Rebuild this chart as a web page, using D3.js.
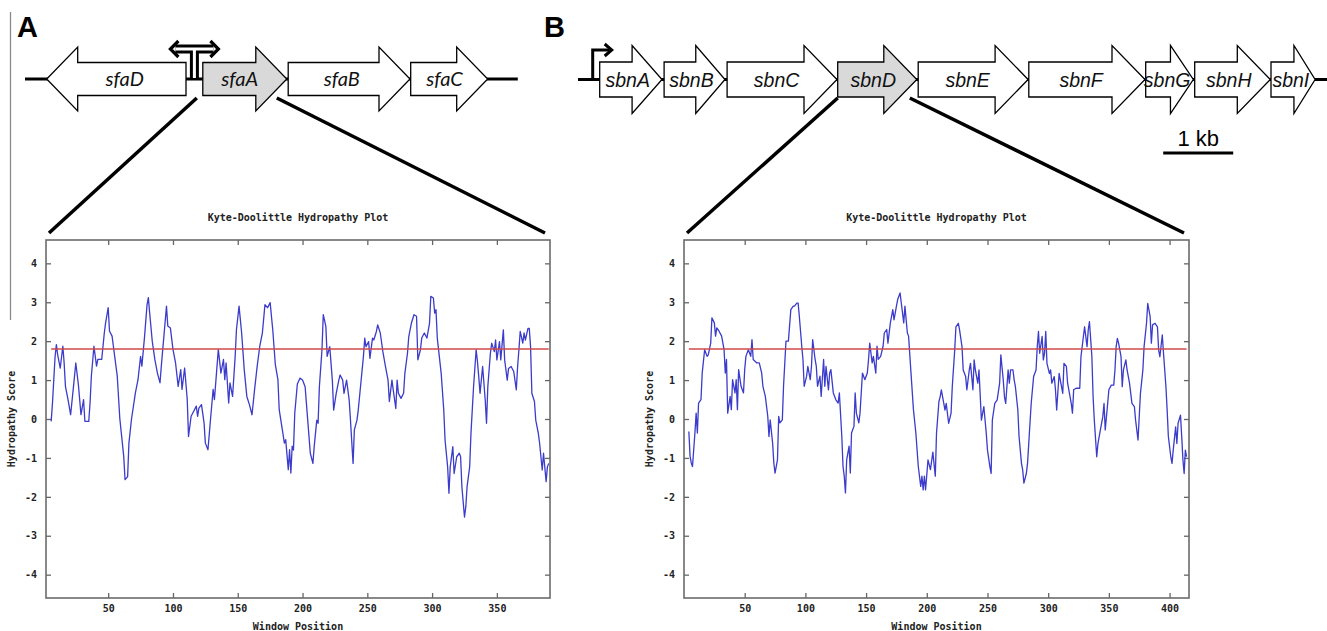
<!DOCTYPE html>
<html>
<head>
<meta charset="utf-8">
<script src="https://cdn.jsdelivr.net/npm/d3@7"></script>
<style>
  body { margin: 0; background: #fff; }
  svg { display: block; }
  .gp text { font-family: "DejaVu Sans Mono", monospace; font-weight: bold; font-size: 10px; fill: #222; }
</style>
</head>
<body>
<svg id="fig" width="1327" height="631"></svg>
<script>
// ---- gene maps (kb from start of drawn backbone) ----
const genesA  = ["sfaD", "sfaA", "sfaB", "sfaC"];
const startA  = [0.31, 2.54, 3.76, 5.51];
const endA    = [2.30, 3.74, 5.50, 6.61];
const strandA = [-1, 1, 1, 1];
const backboneA = [0, 7.04];

const genesB  = ["sbnA", "sbnB", "sbnC", "sbnD", "sbnE", "sbnF", "sbnG", "sbnH", "sbnI"];
const startB  = [0.31, 1.23, 2.13, 3.71, 4.86, 6.44, 8.11, 8.81, 9.90];
const endB    = [1.20, 2.10, 3.70, 4.84, 6.43, 8.10, 8.79, 9.89, 10.53];
const strandB = [1, 1, 1, 1, 1, 1, 1, 1, 1];
const backboneB = [0, 10.7];
const scaleBarKb = [8.36, 9.36];

// ---- Kyte-Doolittle profiles (window position, score) ----
const posA = [6,7,9,10,11,13,15,16,17,19,
  21,23,25,27,29,31,32,35,36,37,
  39,41,42,45,47,48,50,51,53,54,
  57,59,62,63,65,66,68,71,73,75,
  76,78,80,81,82,84,86,88,90,91,
  93,95,96,98,100,102,104,106,107,109,
  111,112,114,116,118,119,120,122,124,125,
  127,129,131,132,134,135,137,139,140,141,
  143,144,146,148,149,151,153,155,157,159,
  161,163,165,167,169,171,173,175,177,179,
  181,182,184,186,187,189,190,191,192,193,
  194,196,198,200,202,204,206,208,209,211,
  212,213,215,216,218,219,221,223,224,226,
  228,229,231,232,234,236,237,239,240,242,
  243,245,247,248,249,251,252,254,255,257,
  258,260,262,264,266,267,269,270,272,273,
  274,276,278,279,281,282,284,286,288,289,
  291,292,294,296,298,299,301,302,303,304,
  307,309,310,312,313,314,316,317,319,321,
  322,323,325,326,327,329,330,332,334,335,
  336,337,339,341,342,343,345,346,348,349,
  350,352,353,355,356,358,359,361,363,365,
  366,367,368,370,371,372,374,375,376,377,
  379,380,382,383,385,386,388,389,390];
const scoreA = [-0.06,0.41,1.6,1.91,1.65,1.31,1.87,1.44,0.84,0.5,
  0.11,0.76,1.44,0.88,0.11,0.5,-0.06,-0.06,0.41,1.1,
  1.87,1.36,1.53,1.53,2.21,2.47,2.86,2.26,2.13,1.87,
  1.1,0,-0.96,-1.56,-1.48,-0.62,0,0.67,1.01,1.61,
  1.36,2.09,2.94,3.12,2.73,2.0,1.53,1.18,0.93,1.36,
  2.13,2.9,2.39,2.34,1.79,1.44,0.84,1.27,0.76,1.31,
  0.5,-0.45,0.07,0.2,0.33,0.07,0.28,0.37,-0.1,-0.62,
  -0.79,0,0.76,0.5,1.36,1.79,1.18,1.53,1.01,1.44,
  0.41,0.93,0.58,1.61,2.3,2.9,2.21,1.27,0.58,0.37,
  0.11,0.76,1.36,1.87,2.21,2.94,2.86,2.99,2.3,1.4,
  1.01,0.24,-0.19,-0.62,-0.53,-1.3,-0.79,-1.39,-0.7,-0.8,
  0.15,0.9,1.05,1.0,0.83,-0.03,-0.88,-1.14,-0.71,-0.03,
  -0.11,0.83,1.78,2.68,2.38,1.61,1.86,1.0,0.23,0.66,
  1.0,1.13,1.0,0.66,1.0,0.49,-0.03,-1.14,-0.28,-0.03,
  0.23,0.92,1.61,2.08,1.86,1.99,1.56,2.08,2.03,2.25,
  2.42,2.21,1.73,1.35,1.0,0.45,1.0,0.75,0.27,1.0,
  0.66,0.53,0.66,1.18,1.69,2.12,2.46,2.68,2.64,1.52,
  1.78,2.08,2.21,2.08,2.46,3.15,3.11,2.72,2.81,2.08,
  1.18,0.23,-0.54,-1.23,-1.91,-1.23,-0.71,-1.4,-0.97,-0.88,
  -0.97,-1.74,-2.52,-2.26,-1.74,-1.23,-0.37,0.83,1.78,1.48,
  1.09,0.66,1.35,0.49,-0.11,0.83,1.69,1.95,1.73,2.03,
  1.52,1.99,1.52,2.29,1.52,1.0,1.3,1.35,1.22,0.75,
  1.35,1.78,2.25,1.95,2.21,2.03,2.33,2.33,1.86,0.66,
  0.45,-0.03,-0.37,-0.63,-1.31,-0.88,-1.61,-1.23,-1.14];

const posB = [4,5,6,7,9,10,11,12,14,15,
  17,19,20,22,23,25,26,27,29,31,
  33,34,35,36,38,39,40,42,43,44,
  45,47,49,50,51,53,55,56,57,60,
  62,64,65,67,69,70,71,73,74,75,
  77,78,79,81,82,84,86,88,90,91,
  93,94,95,97,98,99,101,102,104,105,
  106,108,109,110,112,113,115,116,117,119,
  120,121,123,125,127,128,130,131,132,133,
  134,136,137,138,140,141,142,144,145,147,
  149,151,152,153,155,156,158,159,160,162,
  164,165,167,168,170,172,173,175,176,178,
  179,181,182,184,185,187,189,191,193,195,
  196,197,198,199,201,203,205,207,208,210,
  211,212,214,215,216,218,220,221,223,224,
  226,227,229,230,232,233,235,236,238,239,
  240,242,243,245,247,249,250,252,253,254,
  256,258,260,261,263,264,265,267,268,269,
  271,272,273,275,276,278,279,280,282,283,
  284,286,288,290,291,292,293,295,296,297,
  298,299,301,302,303,305,306,307,309,310,
  312,313,315,316,317,319,320,321,323,326,
  327,329,330,332,333,334,336,337,338,340,
  341,343,345,346,347,349,350,352,354,355,
  356,357,358,360,361,362,364,365,367,369,
  371,372,374,375,376,378,379,381,382,384,
  385,386,388,390,391,392,394,395,397,398,
  399,401,402,403,405,406,407,409,410,411,
  412,413,414];
const scoreB = [-0.32,-0.96,-1.13,-1.22,-0.36,0.15,-0.36,0.41,0.5,1.18,
  1.78,1.61,1.65,1.95,2.6,2.47,2.13,2.34,2.25,2.13,
  1.78,1.18,1.53,0.15,0.58,0.24,1.01,0.67,1.01,0.24,
  1.27,0.84,0.67,1.27,1.61,1.78,1.61,2.04,1.53,1.44,
  1.44,1.18,0.84,0.58,0.07,-0.45,-0.02,-0.62,-1.13,-1.39,
  -1.05,0.07,-0.1,-0.02,0.84,2.0,2.0,2.81,2.9,2.9,
  2.98,2.98,2.64,1.87,1.53,0.84,1.1,1.35,1.01,1.35,
  2.04,1.53,1.35,0.84,1.1,0.58,1.53,0.84,1.35,0.75,
  1.18,1.27,0.67,0.5,0.41,0.67,-0.45,-1.22,-1.47,-1.9,
  -1.05,-0.7,-1.39,-0.36,-0.19,0.67,0.15,-0.1,0.15,1.18,
  1.01,1.18,1.53,1.95,1.44,1.61,1.18,1.87,1.53,1.61,
  1.87,2.21,2.3,1.95,2.47,2.81,2.55,2.9,3.07,3.24,
  2.98,2.47,2.9,2.21,2.13,1.18,0.24,-0.36,-1.22,-1.73,
  -1.47,-1.82,-1.47,-1.82,-1.05,-1.3,-0.85,-1.47,-0.37,0.45,
  0.57,0.75,0.4,0.23,0.4,-0.11,0.15,0.83,1.77,2.37,
  2.46,2.29,1.86,1.26,1.09,0.75,1.26,1.43,0.75,1.52,
  1.26,0.92,1.26,-0.03,0.32,-0.37,-0.8,-1.23,-1.4,-0.03,
  0.4,0.49,0.92,1.65,1.0,0.57,0.4,1.26,0.92,1.26,
  1.26,1.0,0.83,0.23,-0.45,-1.14,-1.31,-1.65,-1.4,-1.14,
  -0.63,0.4,1.09,1.26,1.86,2.25,1.69,2.12,1.52,1.69,
  2.25,1.43,1.17,1.26,0.92,1.09,0.75,0.23,1.17,1.0,
  0.66,1.43,1.35,0.92,0.75,0.4,0.15,0.75,0.79,0.79,
  1.6,2.12,2.37,1.86,2.29,2.5,1.6,0.57,-0.03,-0.97,
  -0.63,-0.28,0.06,0.4,-0.28,0.4,0.75,0.87,0.87,1.26,
  1.86,2.07,1.95,1.6,0.83,1.26,1.52,1.26,0.92,0.4,
  0.32,-0.03,-0.54,0.06,0.66,1.26,1.86,2.46,2.97,2.63,
  1.95,2.42,2.46,2.37,1.77,1.6,2.16,1.69,0.83,0.23,
  -0.45,-0.97,-1.14,-0.8,-0.2,-0.63,-0.11,0.1,-0.45,-1.05,
  -1.4,-0.8,-0.97];

const threshold = 1.8;
const yTicks = [-4, -3, -2, -1, 0, 1, 2, 3, 4];
const xTicksA = [50, 100, 150, 200, 250, 300, 350];
const xTicksB = [50, 100, 150, 200, 250, 300, 350, 400];

const svg = d3.select("#fig");
const kbPx = 70; // px per kb in the gene maps

// panel letters + divider
svg.append("line").attr("x1", 10.5).attr("x2", 10.5).attr("y1", 12).attr("y2", 320)
  .attr("stroke", "#8a8a8a").attr("stroke-width", 1.3);
svg.append("text").attr("x", 17).attr("y", 37).text("A")
  .attr("font-family", "Liberation Sans, Arial, sans-serif").attr("font-weight", "bold").attr("font-size", 29);
svg.append("text").attr("x", 544).attr("y", 37).text("B")
  .attr("font-family", "Liberation Sans, Arial, sans-serif").attr("font-weight", "bold").attr("font-size", 29);

function arrowPath(x0, x1, dir, cy, h1, h2, hmax) {
  const head = Math.min(hmax, (x1 - x0) * 0.48);
  if (dir > 0) {
    const xb = x1 - head;
    return `M${x0},${cy - h1}L${xb},${cy - h1}L${xb},${cy - h2}L${x1},${cy}L${xb},${cy + h2}L${xb},${cy + h1}L${x0},${cy + h1}Z`;
  }
  const xb = x0 + head;
  return `M${x1},${cy - h1}L${xb},${cy - h1}L${xb},${cy - h2}L${x0},${cy}L${xb},${cy + h2}L${xb},${cy + h1}L${x1},${cy + h1}Z`;
}

function drawGenes(cfg) {
  const gx = d3.scaleLinear().domain([0, 1]).range([cfg.origin, cfg.origin + kbPx]);
  const g = svg.append("g");
  g.append("line").attr("x1", gx(cfg.backbone[0])).attr("x2", gx(cfg.backbone[1]))
    .attr("y1", cfg.cy).attr("y2", cfg.cy).attr("stroke", "#000").attr("stroke-width", 3);
  cfg.names.forEach((n, i) => {
    const x0 = gx(cfg.starts[i]), x1 = gx(cfg.ends[i]);
    g.append("path").attr("d", arrowPath(x0, x1, cfg.strands[i], cfg.cy, cfg.h1, cfg.h2, cfg.hmax))
      .attr("fill", n === cfg.highlight ? "#d9d9d9" : "#fff")
      .attr("stroke", "#000").attr("stroke-width", 1.3).attr("stroke-linejoin", "miter");
    const tx = cfg.strands[i] > 0 ? x0 + (x1 - x0) * cfg.textFrac : x1 - (x1 - x0) * cfg.textFrac;
    g.append("text").attr("x", tx).attr("y", cfg.cy + 7).attr("text-anchor", "middle")
      .attr("font-family", cfg.font).attr("font-style", "italic").attr("font-size", cfg.fontSize)
      .attr("fill", "#111").text(n);
  });
  return gx;
}

const gxA = drawGenes({ names: genesA, starts: startA, ends: endA, strands: strandA, backbone: backboneA,
  origin: 25, cy: 79, h1: 16.5, h2: 32, hmax: 31, highlight: "sfaA",
  font: "Lato, 'Open Sans', sans-serif", fontSize: 20, textFrac: 0.44 });
const gxB = drawGenes({ names: genesB, starts: startB, ends: endB, strands: strandB, backbone: backboneB,
  origin: 578, cy: 79.5, h1: 17.5, h2: 34, hmax: 33, highlight: "sbnD",
  font: "'Liberation Sans', Arial, sans-serif", fontSize: 19.5, textFrac: 0.45 });

// divergent promoter (A)
const pxA = (gxA(endA[0]) + gxA(startA[1])) / 2;
svg.append("path").attr("d", `M${pxA},80V49M${pxA - 19},49H${pxA + 19}`)
  .attr("fill", "none").attr("stroke", "#000").attr("stroke-width", 9);
svg.append("path").attr("d", `M${pxA},78V49M${pxA - 19},49H${pxA + 19}`)
  .attr("fill", "none").attr("stroke", "#fff").attr("stroke-width", 3);
svg.append("path").attr("d", `M${pxA - 16},41L${pxA - 24},49L${pxA - 16},57M${pxA + 16},41L${pxA + 24},49L${pxA + 16},57`)
  .attr("fill", "none").attr("stroke", "#000").attr("stroke-width", 3.2);

// promoter (B)
const pxB = gxB(startB[0]) - 7;
svg.append("path").attr("d", `M${pxB},80V50H${pxB + 17}`)
  .attr("fill", "none").attr("stroke", "#000").attr("stroke-width", 3);
svg.append("path").attr("d", `M${pxB + 12},44L${pxB + 19},50L${pxB + 12},56`)
  .attr("fill", "none").attr("stroke", "#000").attr("stroke-width", 3);

// scale bar
svg.append("line").attr("x1", gxB(scaleBarKb[0])).attr("x2", gxB(scaleBarKb[1]))
  .attr("y1", 153).attr("y2", 153).attr("stroke", "#000").attr("stroke-width", 3);
svg.append("text").attr("x", (gxB(scaleBarKb[0]) + gxB(scaleBarKb[1])) / 2).attr("y", 146)
  .attr("text-anchor", "middle").attr("font-family", "'Liberation Sans', Arial, sans-serif")
  .attr("font-size", 22).text("1 kb");

// ---- hydropathy plots ----
function drawPlot(cfg) {
  const top = 240, bottom = 598;
  const x = d3.scaleLinear().domain(cfg.xDomain).range([cfg.left, cfg.right]);
  const y = d3.scaleLinear().domain([-4.6, 4.6]).range([bottom, top]);
  const g = svg.append("g").attr("class", "gp");

  g.append("text").attr("x", (cfg.left + cfg.right) / 2).attr("y", 221).attr("text-anchor", "middle")
    .attr("font-size", 10.5).text("Kyte-Doolittle Hydropathy Plot");

  const fmt = d => String(d);
  const styleAxis = sel => {
    sel.select(".domain").remove();
    sel.selectAll(".tick line").attr("stroke", "#666").attr("stroke-width", 1.3);
    sel.selectAll(".tick text").attr("fill", "#222");
  };
  g.append("g").attr("transform", `translate(0,${bottom})`)
    .call(d3.axisBottom(x).tickValues(cfg.xTicks).tickSizeInner(-5).tickSizeOuter(0).tickPadding(7).tickFormat(fmt))
    .call(styleAxis);
  g.append("g").attr("transform", `translate(0,${top})`)
    .call(d3.axisTop(x).tickValues(cfg.xTicks).tickSizeInner(-5).tickSizeOuter(0).tickFormat(""))
    .call(styleAxis);
  g.append("g").attr("transform", `translate(${cfg.left},0)`)
    .call(d3.axisLeft(y).tickValues(yTicks).tickSizeInner(-5).tickSizeOuter(0).tickPadding(9).tickFormat(fmt))
    .call(styleAxis);
  g.append("g").attr("transform", `translate(${cfg.right},0)`)
    .call(d3.axisRight(y).tickValues(yTicks).tickSizeInner(-5).tickSizeOuter(0).tickFormat(""))
    .call(styleAxis);
  g.selectAll(".tick text").attr("font-family", null).attr("font-size", null);

  g.append("rect").attr("x", cfg.left).attr("y", top).attr("width", cfg.right - cfg.left)
    .attr("height", bottom - top).attr("fill", "none").attr("stroke", "#6b6b6b").attr("stroke-width", 1.6);

  const data = cfg.pos.map((p, i) => [p, cfg.score[i]]);
  g.append("path").datum(data)
    .attr("d", d3.line().x(d => x(d[0])).y(d => y(d[1])))
    .attr("fill", "none").attr("stroke", "#3b3bcc").attr("stroke-width", 1.3).attr("stroke-linejoin", "round");

  g.append("line").attr("x1", x(cfg.pos[0])).attr("x2", x(cfg.pos[cfg.pos.length - 1]))
    .attr("y1", y(threshold)).attr("y2", y(threshold))
    .attr("stroke", "#d24848").attr("stroke-width", 1.5);

  g.append("text").attr("x", (cfg.left + cfg.right) / 2).attr("y", 630).attr("text-anchor", "middle")
    .text("Window Position");
  g.append("text").attr("transform", `translate(${cfg.left - 31},${y(0)}) rotate(-90)`)
    .attr("text-anchor", "middle").text("Hydropathy Score");
  return { x, top };
}

const pA = drawPlot({ pos: posA, score: scoreA, xDomain: [2, 391], xTicks: xTicksA, left: 46, right: 550 });
const pB = drawPlot({ pos: posB, score: scoreB, xDomain: [0, 416], xTicks: xTicksB, left: 684, right: 1189 });

// zoom lines from the highlighted gene to the plot
function zoomLines(gx, s, e, plotL, plotR, dl, dr) {
  svg.append("line").attr("x1", gx(s) + dl).attr("y1", 98).attr("x2", plotL + 3).attr("y2", 233)
    .attr("stroke", "#000").attr("stroke-width", 3.5);
  svg.append("line").attr("x1", gx(e) + dr).attr("y1", 98).attr("x2", plotR - 5).attr("y2", 233)
    .attr("stroke", "#000").attr("stroke-width", 3.5);
}
zoomLines(gxA, startA[1], endA[1], 46, 550, -6, -10);
zoomLines(gxB, startB[3], endB[3], 684, 1189, 0, -7);
</script>
</body>
</html>
